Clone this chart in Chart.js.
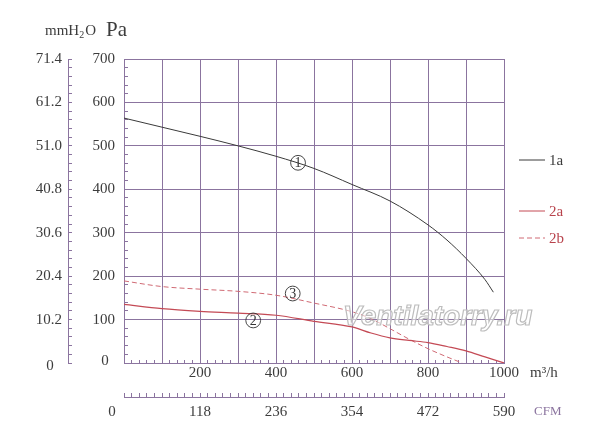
<!DOCTYPE html>
<html>
<head>
<meta charset="utf-8">
<script src="https://cdn.jsdelivr.net/npm/chart.js@4"></script>
<style>
html, body { margin: 0; padding: 0; background: #fff; }
#wrap { width: 600px; height: 436px; position: relative; }
</style>
</head>
<body>
<div id="wrap"><canvas id="fan"></canvas></div>
<script>
// airflow (m3/h) against static pressure (Pa)
var flow1a = [0, 100, 200, 300, 400, 500, 600, 700, 800, 850, 900, 950, 972]
var pres1a = [564, 543, 522, 500, 476, 448, 411, 373, 318, 283, 241, 192, 163]

var flow2a = [0, 100, 200, 300, 400, 500, 600, 650, 700, 750, 800, 850, 900, 950, 1000]
var pres2a = [135, 125, 119, 115, 110, 96, 83, 69, 58, 52, 47, 38, 28, 14, 0]

var flow2b = [0, 100, 200, 300, 400, 500, 600, 650, 700, 750, 800, 850, 890]
var pres2b = [189, 176, 170, 165, 156, 138, 118, 102, 79, 55, 33, 14, 0]

var seriesNames = ['1a', '2a', '2b']
var mmLabels = ['0', '10.2', '20.4', '30.6', '40.8', '51.0', '61.2', '71.4']
var cfmLabels = ['0', '118', '236', '354', '472', '590']

// circled curve numbers, placed in chart units
var markNums = ['1', '2', '3']
var markFlow = [458, 340, 444]
var markPres = [461, 98, 160]

var purple = '#8b749f'
var ink = '#3c3c3c'
var serif = "'Liberation Serif', 'DejaVu Serif', serif"

function pts(xs, ys) {
    return xs.map(function (x, i) { return {x: x, y: ys[i]} })
}

function steps(n, size) {
    var out = []
    for (var i = 0; i <= n; i++) out.push({value: +(i * size).toFixed(2)})
    return out
}

var extras = {
    id: 'extras',
    afterDraw: function (chart) {
        var c = chart.ctx
        var x = chart.scales.x, y = chart.scales.y, mm = chart.scales.mm, cfm = chart.scales.cfm
        c.save()

        // watermark
        c.font = "italic bold 28px 'Liberation Sans', Arial, sans-serif"
        c.textBaseline = 'alphabetic'
        c.textAlign = 'left'
        c.lineWidth = 1.2
        c.fillStyle = 'rgba(255,255,255,0.55)'
        c.strokeStyle = '#bdbdbd'
        c.fillText('Ventilatorry.ru', 343, 325, 192)
        c.strokeText('Ventilatorry.ru', 343, 325, 192)

        // circled numbers
        c.strokeStyle = '#333'
        c.lineWidth = 0.9
        c.fillStyle = '#333'
        c.font = '14px ' + serif
        c.textAlign = 'center'
        c.textBaseline = 'middle'
        for (var i = 0; i < markNums.length; i++) {
            var px = x.getPixelForValue(markFlow[i]), py = y.getPixelForValue(markPres[i])
            c.beginPath()
            c.arc(px, py, 7.4, 0, Math.PI * 2)
            c.stroke()
            c.fillText(markNums[i], px, py + 1)
        }

        // zero labels sit a little off their axes
        c.fillStyle = ink
        c.font = '15px ' + serif
        c.fillText('0', 105, y.getPixelForValue(0) - 2)
        c.fillText('0', 50, mm.getPixelForValue(0) + 3)
        c.fillText('0', cfm.getPixelForValue(0) - 12, 412)

        // unit labels
        c.textAlign = 'left'
        c.fillText('m\u00b3/h', 530, 373)
        c.fillStyle = purple
        c.font = '13px ' + serif
        c.fillText('CFM', 534, 412)

        c.fillStyle = ink
        c.font = '15px ' + serif
        c.fillText('mmH', 45, 31)
        var w = c.measureText('mmH').width
        c.font = '10px ' + serif
        c.fillText('2', 45 + w, 35)
        c.font = '15px ' + serif
        c.fillText('O', 45 + w + 6, 31)
        c.font = '21px ' + serif
        c.fillText('Pa', 106, 30)

        // legend
        var rows = [160, 211, 238]
        chart.data.datasets.forEach(function (ds, k) {
            c.strokeStyle = ds.borderColor
            c.lineWidth = 1
            c.setLineDash(ds.borderDash || [])
            c.beginPath()
            c.moveTo(519, rows[k])
            c.lineTo(545, rows[k])
            c.stroke()
            c.setLineDash([])
            c.fillStyle = k == 0 ? ink : '#b8434c'
            c.font = '15px ' + serif
            c.fillText(ds.label, 549, rows[k] + 1)
        })
        c.restore()
    }
}

new Chart('fan', {
    type: 'line',
    data: {
        datasets: [{
            label: seriesNames[0],
            data: pts(flow1a, pres1a),
            borderColor: '#3a3a3a',
            borderWidth: 1,
        }, {
            label: seriesNames[1],
            data: pts(flow2a, pres2a),
            borderColor: '#c44a55',
            borderWidth: 1.2,
        }, {
            label: seriesNames[2],
            data: pts(flow2b, pres2b),
            borderColor: '#d06a74',
            borderWidth: 1,
            borderDash: [5, 3],
        }]
    },
    plugins: [extras],
    options: {
        responsive: true,
        maintainAspectRatio: false,
        animation: false,
        layout: {padding: {left: 0, top: 59, right: 96, bottom: 9}},
        elements: {
            point: {radius: 0},
            line: {tension: 0.4, cubicInterpolationMode: 'monotone', fill: false}
        },
        plugins: {
            legend: {display: false},
            tooltip: {enabled: false},
        },
        scales: {
            x: {
                type: 'linear',
                position: 'bottom',
                weight: 0,
                min: 0,
                max: 1000,
                afterBuildTicks: function (s) { s.ticks = steps(50, 20) },
                afterFit: function (s) { s.height = 34 },
                grid: {
                    color: function (ctx) { return ctx.tick && ctx.tick.value % 100 == 0 ? purple : 'transparent' },
                    tickColor: purple,
                    tickLength: -3,
                },
                border: {color: purple},
                ticks: {
                    autoSkip: false,
                    maxRotation: 0,
                    padding: 4,
                    color: ink,
                    font: {family: serif, size: 15},
                    callback: function (v) { return v > 0 && v % 200 == 0 ? v : '' },
                },
            },
            cfm: {
                type: 'linear',
                position: 'bottom',
                weight: 1,
                min: 0,
                max: 590,
                afterBuildTicks: function (s) { s.ticks = steps(50, 11.8) },
                afterFit: function (s) { s.height = 30 },
                grid: {drawOnChartArea: false, color: purple, tickColor: purple, tickLength: -4},
                border: {color: purple},
                ticks: {
                    autoSkip: false,
                    maxRotation: 0,
                    padding: 10,
                    color: ink,
                    font: {family: serif, size: 15},
                    callback: function (v, i) { return i > 0 && i % 10 == 0 ? cfmLabels[i / 10] : '' },
                },
            },
            y: {
                position: 'left',
                weight: 0,
                min: 0,
                max: 700,
                afterBuildTicks: function (s) { s.ticks = steps(35, 20) },
                afterFit: function (s) { s.width = 56 },
                grid: {
                    color: function (ctx) { return ctx.tick && ctx.tick.value % 100 == 0 ? purple : 'transparent' },
                    tickColor: purple,
                    tickLength: -4,
                },
                border: {color: purple},
                ticks: {
                    autoSkip: false,
                    padding: 13,
                    color: ink,
                    font: {family: serif, size: 15},
                    callback: function (v) { return v > 0 && v % 100 == 0 ? v : '' },
                },
            },
            mm: {
                type: 'linear',
                position: 'left',
                weight: 1,
                min: 0,
                max: 71.4,
                afterBuildTicks: function (s) { s.ticks = steps(35, 2.04) },
                afterFit: function (s) { s.width = 68 },
                grid: {drawOnChartArea: false, color: purple, tickColor: purple, tickLength: -4},
                border: {color: purple},
                ticks: {
                    autoSkip: false,
                    padding: 10,
                    color: ink,
                    font: {family: serif, size: 15},
                    callback: function (v, i) { return i > 0 && i % 5 == 0 ? mmLabels[i / 5] : '' },
                },
            },
        }
    }
})
</script>
</body>
</html>
